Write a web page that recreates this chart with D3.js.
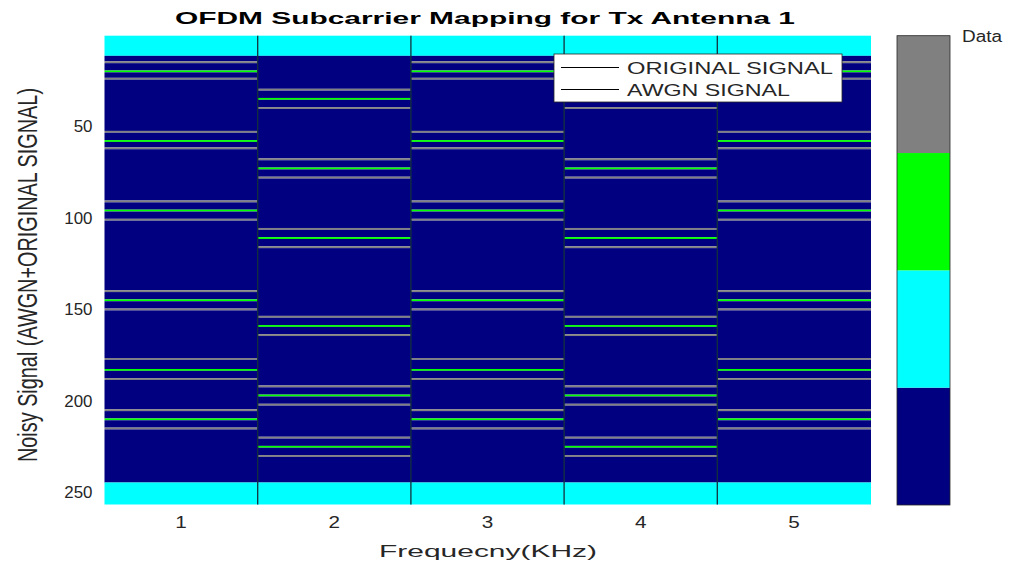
<!DOCTYPE html>
<html>
<head>
<meta charset="utf-8">
<script src="https://cdn.jsdelivr.net/npm/d3@7"></script>
<style>
  html, body { margin: 0; padding: 0; background: #fff; }
  svg { display: block; font-family: "Liberation Sans", Arial, sans-serif; }
</style>
</head>
<body>
<svg id="chart" width="1013" height="568"></svg>
<script>
// ---- data -------------------------------------------------------------
const symbols = [1, 2, 3, 4, 5];                 // OFDM symbols (columns)
const subcarrierCount = 256;                      // rows per symbol
const yTickValues = [50, 100, 150, 200, 250];

// guard (null) subcarriers, inclusive row ranges
const guardBands = [[1, 11], [245, 256]];

// odd symbols
const patternAGray  = [15, 24, 53, 62, 91, 101, 140, 150, 177, 188, 205, 215];
const patternAGreen = [20, 58, 96, 145, 183, 210];
// even symbols
const patternBGray  = [30, 40, 68, 78, 106, 116, 154, 164, 192, 202, 220, 230];
const patternBGreen = [35, 73, 111, 159, 197, 225];
const symbolPattern = ["A", "B", "A", "B", "A"];

// colormap levels: 1 data, 2 guard, 3 pilot, 4 noise
const levels = [1, 2, 3, 4];
const levelColors = ["#000080", "#00ffff", "#00ff00", "#808080"];

const legendLabels = ["ORIGINAL SIGNAL", "AWGN SIGNAL"];
const titleText = "OFDM Subcarrier Mapping for Tx Antenna 1";
const xLabelText = "Frequecny(KHz)";
const yLabelText = "Noisy Signal (AWGN+ORIGINAL SIGNAL)";
const colorbarLabel = "Data";

// ---- build the mapping matrix ----------------------------------------
function cellValue(sym, row) {
  for (const [a, b] of guardBands) if (row >= a && row <= b) return 2;
  const p = symbolPattern[sym - 1];
  const green = p === "A" ? patternAGreen : patternBGreen;
  const gray  = p === "A" ? patternAGray  : patternBGray;
  if (green.includes(row)) return 3;
  if (gray.includes(row)) return 4;
  return 1;
}

// merge consecutive equal rows into runs so the column has no seams
const runs = [];
symbols.forEach(s => {
  let start = 1, cur = cellValue(s, 1);
  for (let r = 2; r <= subcarrierCount + 1; r++) {
    const v = r <= subcarrierCount ? cellValue(s, r) : null;
    if (v !== cur) {
      runs.push({ sym: s, start, end: r - 1, value: cur });
      start = r; cur = v;
    }
  }
});

// ---- scales -----------------------------------------------------------
const plot = { left: 104.5, right: 870.5, top: 35.7, bottom: 504.5 };
const x = d3.scaleBand().domain(symbols).range([plot.left, plot.right]).padding(0);
const y = d3.scaleLinear().domain([0.5, subcarrierCount + 0.5]).range([plot.top, plot.bottom]);
const color = d3.scaleOrdinal().domain(levels).range(levelColors);

const svg = d3.select("#chart");
const textColor = "#262626";

// ---- image cells ------------------------------------------------------
svg.append("g").selectAll("rect")
  .data(runs)
  .join("rect")
  .attr("x", d => x(d.sym))
  .attr("width", x.bandwidth() + 0.5)
  .attr("y", d => y(d.start - 0.5))
  .attr("height", d => y(d.end + 0.5) - y(d.start - 0.5))
  .attr("fill", d => color(d.value));

// dividers between symbols
svg.append("g").selectAll("line")
  .data(symbols.slice(1))
  .join("line")
  .attr("x1", d => x(d)).attr("x2", d => x(d))
  .attr("y1", plot.top).attr("y2", plot.bottom)
  .attr("stroke", "#14303c")
  .attr("stroke-width", 1.3);

// ---- axes -------------------------------------------------------------
const yAxis = svg.append("g")
  .attr("transform", `translate(${plot.left},0)`)
  .call(d3.axisLeft(y).tickValues(yTickValues).tickSize(0).tickPadding(12));
yAxis.select(".domain").remove();
yAxis.selectAll("text")
  .attr("font-size", 16)
  .attr("fill", textColor)
  .attr("font-family", "Liberation Sans, Arial, sans-serif")
  .attr("textLength", d => String(d).length * 9.4)
  .attr("lengthAdjust", "spacingAndGlyphs");

const xAxis = svg.append("g")
  .attr("transform", `translate(0,${plot.bottom})`)
  .call(d3.axisBottom(x).tickSize(0).tickPadding(12));
xAxis.select(".domain").remove();
xAxis.selectAll("text")
  .attr("font-size", 16)
  .attr("fill", textColor)
  .attr("font-family", "Liberation Sans, Arial, sans-serif")
  .attr("textLength", 11.5)
  .attr("lengthAdjust", "spacingAndGlyphs");

// ---- titles -----------------------------------------------------------
svg.append("text")
  .attr("x", 485).attr("y", 24)
  .attr("text-anchor", "middle")
  .attr("font-size", 16.5).attr("font-weight", "bold")
  .attr("fill", "#000")
  .attr("textLength", 620).attr("lengthAdjust", "spacingAndGlyphs")
  .text(titleText);

svg.append("text")
  .attr("x", 488).attr("y", 557)
  .attr("text-anchor", "middle")
  .attr("font-size", 17)
  .attr("fill", textColor)
  .attr("textLength", 218).attr("lengthAdjust", "spacingAndGlyphs")
  .text(xLabelText);

svg.append("text")
  .attr("transform", "translate(37,275) scale(1.6,1) rotate(-90)")
  .attr("text-anchor", "middle")
  .attr("font-size", 17)
  .attr("fill", textColor)
  .attr("textLength", 374).attr("lengthAdjust", "spacingAndGlyphs")
  .text(yLabelText);

// ---- legend -----------------------------------------------------------
const lg = svg.append("g").attr("transform", "translate(554,54)");
lg.append("rect")
  .attr("width", 288).attr("height", 48)
  .attr("fill", "#fff").attr("stroke", "#262626").attr("stroke-width", 0.8);
const legendRowY = d3.scalePoint().domain(legendLabels).range([13.5, 35.5]);
const item = lg.selectAll("g.item").data(legendLabels).join("g")
  .attr("class", "item")
  .attr("transform", d => `translate(0,${legendRowY(d)})`);
item.append("line")
  .attr("x1", 7).attr("x2", 65)
  .attr("stroke", "#000").attr("stroke-width", 1);
item.append("text")
  .attr("x", 73).attr("y", 6)
  .attr("font-size", 16.5)
  .attr("fill", textColor)
  .attr("textLength", (d, i) => i === 0 ? 206 : 163)
  .attr("lengthAdjust", "spacingAndGlyphs")
  .text(d => d);

// ---- colorbar ---------------------------------------------------------
const cb = { x: 897, width: 53 };
const cbY = d3.scaleLinear().domain([0.5, levels.length + 0.5]).range([505, 35.7]);
svg.append("g").selectAll("rect")
  .data(levels)
  .join("rect")
  .attr("x", cb.x).attr("width", cb.width)
  .attr("y", d => cbY(d + 0.5))
  .attr("height", d => cbY(d - 0.5) - cbY(d + 0.5))
  .attr("fill", d => color(d));
svg.append("rect")
  .attr("x", cb.x).attr("y", cbY(levels.length + 0.5))
  .attr("width", cb.width).attr("height", cbY(0.5) - cbY(levels.length + 0.5))
  .attr("fill", "none").attr("stroke", "#262626").attr("stroke-width", 0.8);
svg.append("text")
  .attr("x", 962).attr("y", 42)
  .attr("font-size", 16)
  .attr("fill", textColor)
  .attr("textLength", 40).attr("lengthAdjust", "spacingAndGlyphs")
  .text(colorbarLabel);
</script>
</body>
</html>
